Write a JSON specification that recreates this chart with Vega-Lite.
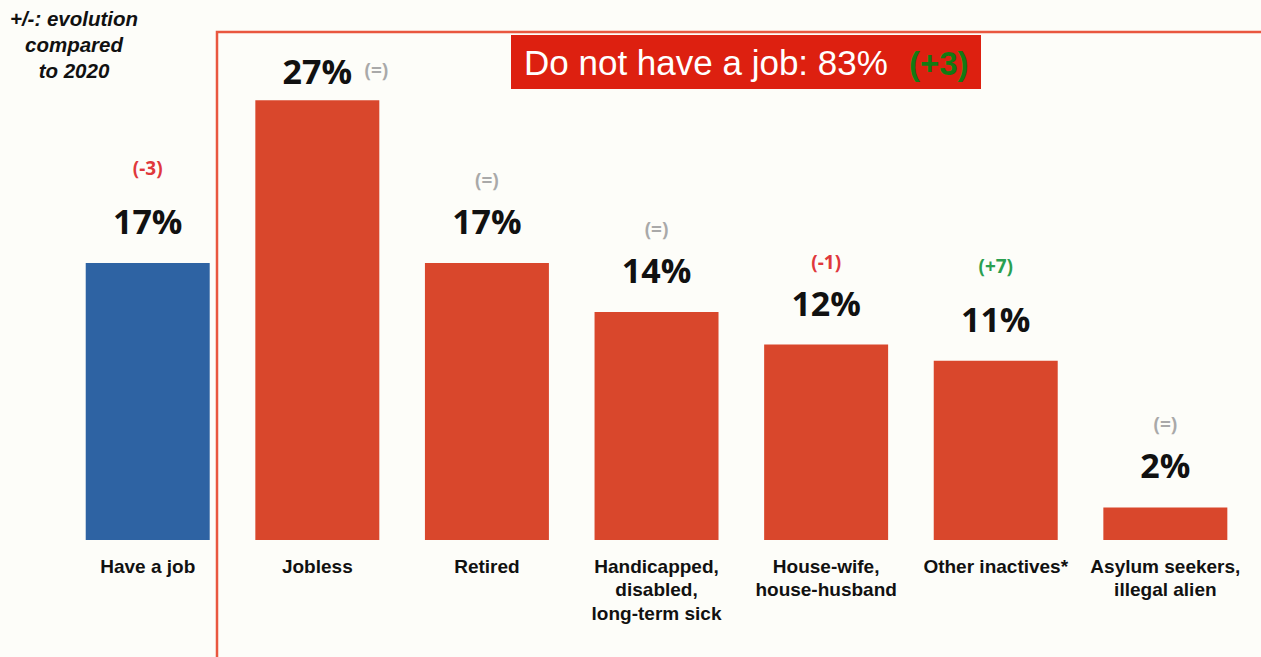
{
  "$schema": "https://vega.github.io/schema/vega-lite/v6.json",
  "autosize": {"type": "none"},
  "width": 1261,
  "height": 540,
  "padding": {"top": 0, "left": 0, "right": 0, "bottom": 117},
  "background": "#fdfdf9",
  "config": {"view": {"stroke": null}},
  "data": {
    "values": [
      {"category": "Have a job", "share": 17, "change": "(-3)", "trend": "down", "group": "job"},
      {"category": "Jobless", "share": 27, "change": "(=)", "trend": "same", "group": "nojob"},
      {"category": "Retired", "share": 17, "change": "(=)", "trend": "same", "group": "nojob"},
      {"category": "Handicapped,\ndisabled,\nlong-term sick", "share": 14, "change": "(=)", "trend": "same", "group": "nojob"},
      {"category": "House-wife,\nhouse-husband", "share": 12, "change": "(-1)", "trend": "down", "group": "nojob"},
      {"category": "Other inactives*", "share": 11, "change": "(+7)", "trend": "up", "group": "nojob"},
      {"category": "Asylum seekers,\nillegal alien", "share": 2, "change": "(=)", "trend": "same", "group": "nojob"}
    ]
  },
  "transform": [{"calculate": "datum.share + '%'", "as": "pct"}],
  "layer": [
    {
      "mark": {"type": "bar"},
      "encoding": {
        "x": {
          "field": "category",
          "type": "nominal",
          "sort": null,
          "scale": {"paddingInner": 0.269, "paddingOuter": 0.352, "align": 0.718},
          "axis": {
            "title": null,
            "domain": false,
            "ticks": false,
            "labelAngle": 0,
            "labelExpr": "split(datum.label, '\\n')",
            "labelFont": "Liberation Sans",
            "labelFontWeight": "bold",
            "labelFontSize": 19,
            "labelColor": "#111111",
            "labelLineHeight": 23.5,
            "labelBaseline": "top",
            "labelPadding": 17,
            "labelLimit": 0
          }
        },
        "y": {"field": "share", "type": "quantitative", "scale": {"domain": [0, 33.15], "nice": false, "zero": true}, "axis": null},
        "color": {"condition": {"test": "datum.group == 'job'", "value": "#2e63a3"}, "value": "#d9472c"}
      }
    },
    {
      "transform": [{"filter": "datum.category != 'Jobless'"}],
      "mark": {"type": "text", "font": "Open Sans", "fontWeight": "bold", "fontSize": 34, "baseline": "alphabetic", "dy": -29, "color": "#111111"},
      "encoding": {
        "x": {"field": "category", "type": "nominal", "sort": null},
        "y": {"field": "share", "type": "quantitative"},
        "text": {"field": "pct"}
      }
    },
    {
      "transform": [{"filter": "datum.category == 'Jobless'"}],
      "mark": {"type": "text", "font": "Open Sans", "fontWeight": "bold", "fontSize": 34, "baseline": "alphabetic", "dy": -16, "color": "#111111"},
      "encoding": {
        "x": {"field": "category", "type": "nominal", "sort": null},
        "y": {"field": "share", "type": "quantitative"},
        "text": {"field": "pct"}
      }
    },
    {
      "transform": [{"filter": "datum.category != 'Jobless' && datum.category != 'Have a job' && datum.category != 'Other inactives*'"}],
      "mark": {"type": "text", "font": "Open Sans", "fontWeight": "bold", "fontSize": 19, "baseline": "alphabetic", "dy": -76},
      "encoding": {
        "x": {"field": "category", "type": "nominal", "sort": null},
        "y": {"field": "share", "type": "quantitative"},
        "text": {"field": "change"},
        "color": {"condition": [{"test": "datum.trend == 'down'", "value": "#e0383c"}, {"test": "datum.trend == 'up'", "value": "#2aa050"}], "value": "#a9a9a9"}
      }
    },
    {
      "transform": [{"filter": "datum.category == 'Have a job' || datum.category == 'Other inactives*'"}],
      "mark": {"type": "text", "font": "Open Sans", "fontWeight": "bold", "fontSize": 19, "baseline": "alphabetic", "dy": -88},
      "encoding": {
        "x": {"field": "category", "type": "nominal", "sort": null},
        "y": {"field": "share", "type": "quantitative"},
        "text": {"field": "change"},
        "color": {"condition": [{"test": "datum.trend == 'down'", "value": "#e0383c"}, {"test": "datum.trend == 'up'", "value": "#2aa050"}], "value": "#a9a9a9"}
      }
    },
    {
      "transform": [{"filter": "datum.category == 'Jobless'"}],
      "mark": {"type": "text", "font": "Open Sans", "fontWeight": "bold", "fontSize": 19, "baseline": "alphabetic", "dy": -23, "dx": 59, "color": "#a9a9a9"},
      "encoding": {
        "x": {"field": "category", "type": "nominal", "sort": null},
        "y": {"field": "share", "type": "quantitative"},
        "text": {"field": "change"}
      }
    },
    {
      "data": {"values": [{"note": "frame"}]},
      "mark": {"type": "rect", "fill": null, "stroke": "#e9573f", "strokeWidth": 2.5},
      "encoding": {
        "x": {"value": 217},
        "x2": {"value": 1275},
        "y": {"value": 32},
        "y2": {"value": 680}
      }
    },
    {
      "data": {"values": [{"note": "title"}]},
      "mark": {"type": "rect", "fill": "#dd2010"},
      "encoding": {
        "x": {"value": 511},
        "x2": {"value": 981},
        "y": {"value": 35},
        "y2": {"value": 89}
      }
    },
    {
      "data": {"values": [{"note": "title"}]},
      "mark": {"type": "text", "font": "Liberation Sans", "fontSize": 35, "align": "left", "baseline": "alphabetic", "color": "#ffffff", "text": "Do not have a job: 83%"},
      "encoding": {
        "x": {"value": 524},
        "y": {"value": 75}
      }
    },
    {
      "data": {"values": [{"note": "title"}]},
      "mark": {"type": "text", "font": "Liberation Sans", "fontSize": 33, "fontWeight": "bold", "align": "left", "baseline": "alphabetic", "color": "#137a13", "text": "(+3)"},
      "encoding": {
        "x": {"value": 909},
        "y": {"value": 75}
      }
    },
    {
      "data": {"values": [{"note": "legend"}]},
      "mark": {"type": "text", "font": "Liberation Sans", "fontSize": 20.5, "fontWeight": "bold", "fontStyle": "italic", "align": "center", "baseline": "alphabetic", "lineHeight": 26, "color": "#111111", "text": ["+/-: evolution", "compared", "to 2020"]},
      "encoding": {
        "x": {"value": 74},
        "y": {"value": 26}
      }
    }
  ]
}
